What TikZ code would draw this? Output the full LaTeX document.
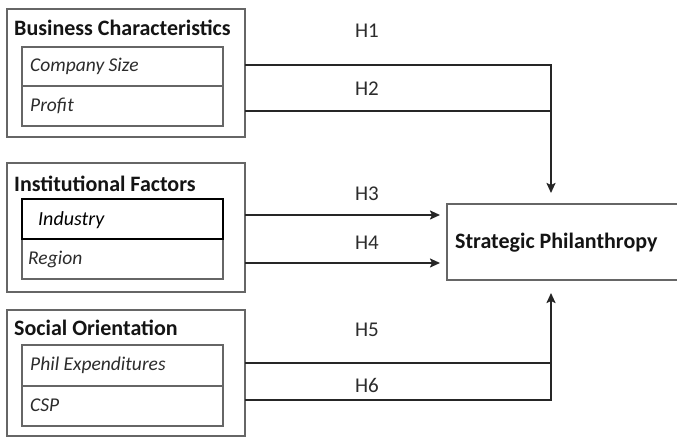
\documentclass[tikz,border=0pt]{standalone}
\usepackage{fontspec}
\setmainfont{Carlito}
\usetikzlibrary{arrows.meta}
\definecolor{boxgray}{HTML}{666666}
\definecolor{linedark}{HTML}{262626}
\definecolor{txt}{HTML}{141414}
\definecolor{txtsoft}{HTML}{2C2C2C}
\begin{document}
\begin{tikzpicture}[x=1pt,y=-1pt,
  outerbox/.style={draw=boxgray,line width=1.4pt,fill=white},
  cellbox/.style={draw=boxgray,line width=1.3pt},
  keycell/.style={draw=black,line width=1.5pt,fill=white},
  title/.style={anchor=west,inner sep=0pt,text=txt,font=\fontsize{22}{24}\selectfont\bfseries},
  item/.style={anchor=west,inner sep=0pt,text=txtsoft,font=\fontsize{19.5}{22}\selectfont\itshape},
  hlabel/.style={inner sep=0pt,text=txtsoft,font=\fontsize{21}{23}\selectfont},
  flow/.style={draw=linedark,line width=1.9pt},
  tip/.style={-{Stealth[length=10pt,width=9pt,inset=2pt]}}]
\useasboundingbox (0,0) rectangle (677,438);

% --- Business Characteristics ---
\draw[outerbox] (7,9) rectangle (245,137);
\node[title] (bct) at (14,28) {Business Characteristics};
\draw[cellbox] (22,47) rectangle (223,126);
\draw[cellbox] (22,86) -- (223,86);
\node[item] (cs) at (30,66) {Company Size};
\node[item] (pr) at (30,106) {Profit};

% --- Institutional Factors ---
\draw[outerbox] (7,163) rectangle (245,292);
\node[title] (ift) at (14,184) {Institutional Factors};
\draw[cellbox] (22,239) rectangle (223,279);
\node[keycell,minimum width=201pt,minimum height=40pt,inner sep=0pt] (indbox) at (122.5,219) {};
\node[anchor=west,inner sep=0pt,text=black,font=\fontsize{20}{22}\selectfont\itshape] (ind) at (38,220) {Industry};
\node[item] (rg) at (28,259) {Region};

% --- Social Orientation ---
\draw[outerbox] (7,310) rectangle (245,436);
\node[title] (sot) at (14,328) {Social Orientation};
\draw[cellbox] (22,345) rectangle (223,426);
\draw[cellbox] (22,386) -- (223,386);
\node[item] (pe) at (30,365) {Phil Expenditures};
\node[item] (csp) at (30,405) {CSP};

% --- Strategic Philanthropy (runs off the right edge) ---
\draw[outerbox] (690,204) -- (447,204) -- (447,280) -- (690,280);
\node[title] (sp) at (455,243) {Strategic Philanthropy};
\coordinate (spTop) at (551,193);
\coordinate (spBot) at (551,293);
\coordinate (spW1) at (440,215);
\coordinate (spW2) at (440,263);

% --- hypothesis paths ---
\coordinate (h1s) at (245,65);
\coordinate (h2s) at (245,111);
\coordinate (h3s) at (245,215);
\coordinate (h4s) at (245,263);
\coordinate (h5s) at (245,363);
\coordinate (h6s) at (245,400);

\draw[flow,tip] (h1s) -- (h1s -| spTop) -- (spTop);
\draw[flow] (h2s) -- (h2s -| spTop);
\draw[flow,tip] (h3s) -- (spW1);
\draw[flow,tip] (h4s) -- (spW2);
\draw[flow,tip] (h6s) -- (h6s -| spBot) -- (spBot);
\draw[flow] (h5s) -- (h5s -| spBot);

\node[hlabel] (H1) at (367,31) {H1};
\node[hlabel] (H2) at (367,89) {H2};
\node[hlabel] (H3) at (367,194) {H3};
\node[hlabel] (H4) at (367,243) {H4};
\node[hlabel] (H5) at (367,330) {H5};
\node[hlabel] (H6) at (367,385) {H6};
\end{tikzpicture}
\end{document}
